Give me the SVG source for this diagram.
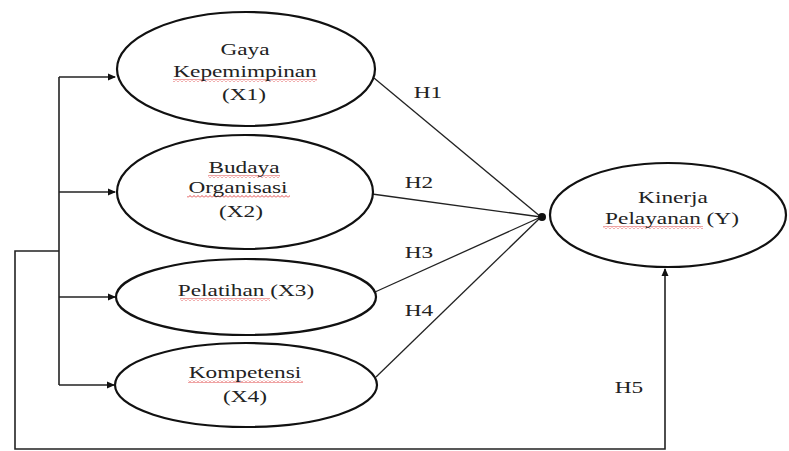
<svg xmlns="http://www.w3.org/2000/svg" width="789" height="451" viewBox="0 0 789 451">
<style>
.node ellipse{fill:#fff;stroke:#111;stroke-width:2.2}
.t{font-family:"Liberation Serif","Times New Roman",serif;font-size:17px;fill:#222;text-anchor:middle}
.c{fill:none;stroke:#222;stroke-width:1.3}
.b{fill:none;stroke:#222;stroke-width:1.6}
</style>
<defs>
<marker id="ah" markerWidth="8" markerHeight="8" refX="7" refY="4" orient="auto" markerUnits="userSpaceOnUse">
<path d="M0,0.5 L8,4 L0,7.5 z" fill="#111"/>
</marker>
<pattern id="sq" width="4" height="3" patternUnits="userSpaceOnUse">
<path d="M0 2.5 L2 0.5 L4 2.5" fill="none" stroke="#d33" stroke-width="0.9"/>
</pattern>
</defs>
<rect width="789" height="451" fill="#fff"/>

<g id="connectors">
<line class="c" x1="374" y1="78" x2="541" y2="217"/>
<line class="c" x1="372" y1="194" x2="541" y2="217"/>
<line class="c" x1="375" y1="292" x2="541" y2="217"/>
<line class="c" x1="376" y1="377" x2="541" y2="217"/>
<circle cx="542" cy="217" r="4" fill="#111"/>
<path class="b" d="M59,77 V385"/>
<path class="b" d="M59,77 H115" marker-end="url(#ah)"/>
<path class="b" d="M59,192 H115" marker-end="url(#ah)"/>
<path class="b" d="M59,297 H115" marker-end="url(#ah)"/>
<path class="b" d="M59,385 H114" marker-end="url(#ah)"/>
<path class="b" d="M59,251 H15 V449 H665 V269" marker-end="url(#ah)"/>
<text class="t" transform="translate(428,98) scale(1.37,1)">H1</text>
<text class="t" transform="translate(419,188) scale(1.37,1)">H2</text>
<text class="t" transform="translate(419,258) scale(1.37,1)">H3</text>
<text class="t" transform="translate(419,316) scale(1.37,1)">H4</text>
<text class="t" transform="translate(629,393) scale(1.37,1)">H5</text>
</g>

<g id="x1" class="node">
<ellipse cx="246" cy="69" rx="129" ry="57"/>
<rect x="173" y="79" width="144" height="3" fill="url(#sq)"/>
<text class="t" transform="translate(245,55) scale(1.37,1)">Gaya</text>
<text class="t" transform="translate(245,77) scale(1.37,1)">Kepemimpinan</text>
<text class="t" transform="translate(244,100) scale(1.37,1)">(X1)</text>
</g>

<g id="x2" class="node">
<ellipse cx="245" cy="192" rx="128" ry="57"/>
<rect x="208" y="175" width="72" height="3" fill="url(#sq)"/>
<rect x="187" y="195" width="103" height="3" fill="url(#sq)"/>
<text class="t" transform="translate(244,173) scale(1.37,1)">Budaya</text>
<text class="t" transform="translate(238,193) scale(1.37,1)">Organisasi</text>
<text class="t" transform="translate(241,217) scale(1.37,1)">(X2)</text>
</g>

<g id="x3" class="node">
<ellipse cx="246" cy="297" rx="130" ry="38"/>
<rect x="180" y="298" width="90" height="3" fill="url(#sq)"/>
<text class="t" transform="translate(246,296) scale(1.37,1)">Pelatihan (X3)</text>
</g>

<g id="x4" class="node">
<ellipse cx="246" cy="385" rx="131" ry="42"/>
<rect x="188" y="380" width="115" height="3" fill="url(#sq)"/>
<text class="t" transform="translate(245,378) scale(1.37,1)">Kompetensi</text>
<text class="t" transform="translate(245,402) scale(1.37,1)">(X4)</text>
</g>

<g id="y" class="node">
<ellipse cx="668" cy="215" rx="118" ry="52"/>
<rect x="603" y="226" width="100" height="3" fill="url(#sq)"/>
<text class="t" transform="translate(673,203) scale(1.37,1)">Kinerja</text>
<text class="t" transform="translate(672,224) scale(1.37,1)">Pelayanan (Y)</text>
</g>
</svg>
